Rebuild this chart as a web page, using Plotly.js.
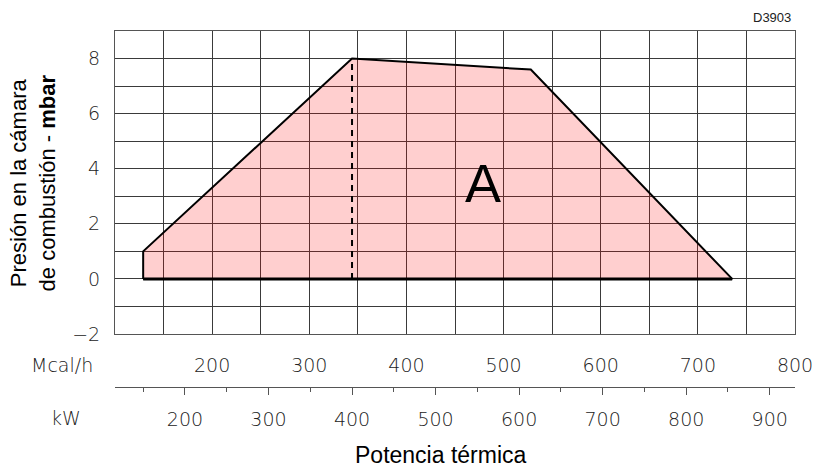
<!DOCTYPE html>
<html>
<head>
<meta charset="utf-8">
<script src="https://cdn.plot.ly/plotly-3.0.1.min.js"></script>
<style>html,body{margin:0;padding:0;background:#fff;}#chart{width:818px;height:470px;}</style>
</head>
<body>
<div id="chart"></div>
<script>
// ---- data ----
const kwBoundary   = [150, 150, 400, 614, 855, 150];   // kW
const mbarBoundary = [0,   1,   8,   7.6, 0,   0];     // mbar
const dashKw   = [400, 400];
const dashMbar = [0, 8];
const mcalTicks = [200, 300, 400, 500, 600, 700, 800];
const kwTicks   = [200, 300, 400, 500, 600, 700, 800, 900];
const mbarTicks = [-2, 0, 2, 4, 6, 8];
const mcalRange = [100, 800];
const mbarRange = [-2, 9];
const MCAL_PER_KW = 0.86;

const tickFont = {family: 'DejaVu Sans, sans-serif', size: 19, color: '#222', weight: 200};
const titleFamily = 'Liberation Sans, Arial, sans-serif';

const traces = [
  // empty trace that registers the Mcal/h axis subplot
  {x: [], y: [], xaxis: 'x', yaxis: 'y', type: 'scatter', mode: 'lines',
   hoverinfo: 'skip', showlegend: false},
  {
    x: kwBoundary, y: mbarBoundary, xaxis: 'x2', yaxis: 'y',
    type: 'scatter', mode: 'lines', fill: 'toself',
    fillcolor: 'rgba(255,0,0,0.19)',
    line: {color: '#000', width: 2}, hoverinfo: 'skip', showlegend: false
  },
  {
    x: [kwBoundary[0], kwBoundary[4]], y: [mbarBoundary[0], mbarBoundary[4]],
    xaxis: 'x2', yaxis: 'y', type: 'scatter', mode: 'lines',
    line: {color: '#000', width: 3}, hoverinfo: 'skip', showlegend: false
  },
  {
    x: dashKw, y: dashMbar, xaxis: 'x2', yaxis: 'y', type: 'scatter', mode: 'lines',
    line: {color: '#000', width: 2, dash: '6px,5px'}, hoverinfo: 'skip', showlegend: false
  }
];

const layout = {
  width: 818, height: 470,
  margin: {l: 115, r: 23, t: 31, b: 40},
  paper_bgcolor: '#fff', plot_bgcolor: '#fff',
  showlegend: false,
  xaxis: {
    range: mcalRange, tickmode: 'array', tickvals: mcalTicks,
    ticks: '', ticklabelstandoff: 14, tickfont: tickFont,
    showgrid: true, gridcolor: '#3a3a3a', gridwidth: 1,
    minor: {dtick: 50, tick0: 100, showgrid: true, gridcolor: '#3a3a3a', gridwidth: 1},
    showline: true, linecolor: '#555', linewidth: 1, mirror: true,
    zeroline: false, fixedrange: true, anchor: 'y'
  },
  xaxis2: {
    range: [mcalRange[0] / MCAL_PER_KW, mcalRange[1] / MCAL_PER_KW],
    overlaying: 'x', anchor: 'free', position: 0.1085, side: 'bottom',
    tickmode: 'array', tickvals: kwTicks,
    ticks: 'outside', ticklen: 7, tickcolor: '#555', tickwidth: 1,
    ticklabelstandoff: 8, tickfont: tickFont,
    minor: {dtick: 100, tick0: 150, ticks: 'outside', ticklen: 4, tickcolor: '#555', showgrid: false},
    showgrid: false, showline: true, linecolor: '#555', linewidth: 1,
    zeroline: false, fixedrange: true
  },
  yaxis: {
    domain: [0.2406, 1], range: mbarRange,
    tickmode: 'array', tickvals: mbarTicks, ticks: '', ticklabelstandoff: 10,
    tickfont: tickFont,
    showgrid: true, gridcolor: '#3a3a3a', gridwidth: 1,
    minor: {dtick: 1, tick0: 0, showgrid: true, gridcolor: '#3a3a3a', gridwidth: 1},
    showline: true, linecolor: '#555', linewidth: 1, mirror: true,
    zeroline: false, fixedrange: true
  },
  annotations: [
    {text: 'Presión en la cámara<br>de combustión - <b>mbar</b>', xref: 'paper', yref: 'paper',
     x: -0.12, y: 0.619, xanchor: 'center', yanchor: 'middle', textangle: -90,
     showarrow: false, font: {family: titleFamily, size: 22, color: '#000'}},
    {text: 'Potencia térmica', xref: 'paper', yref: 'paper', x: 0.480, y: -0.0627,
     xanchor: 'center', yanchor: 'middle', showarrow: false,
     font: {family: titleFamily, size: 23, color: '#000'}},
    {text: 'Mcal/h', xref: 'paper', yref: 'paper', x: -0.078, y: 0.163,
     xanchor: 'center', yanchor: 'middle', showarrow: false, font: tickFont},
    {text: 'kW', xref: 'paper', yref: 'paper', x: -0.072, y: 0.030,
     xanchor: 'center', yanchor: 'middle', showarrow: false, font: tickFont},
    {text: 'D3903', xref: 'paper', yref: 'paper', x: 0.997, y: 1.0338,
     xanchor: 'right', yanchor: 'middle', showarrow: false,
     font: {family: titleFamily, size: 13, color: '#222'}},
    {text: 'A', xref: 'x2', yref: 'y', x: 557, y: 3.5, xanchor: 'center', yanchor: 'middle',
     showarrow: false, font: {family: titleFamily, size: 54, color: '#000'}}
  ]
};

Plotly.newPlot('chart', traces, layout, {displayModeBar: false, staticPlot: true});
</script>
</body>
</html>
